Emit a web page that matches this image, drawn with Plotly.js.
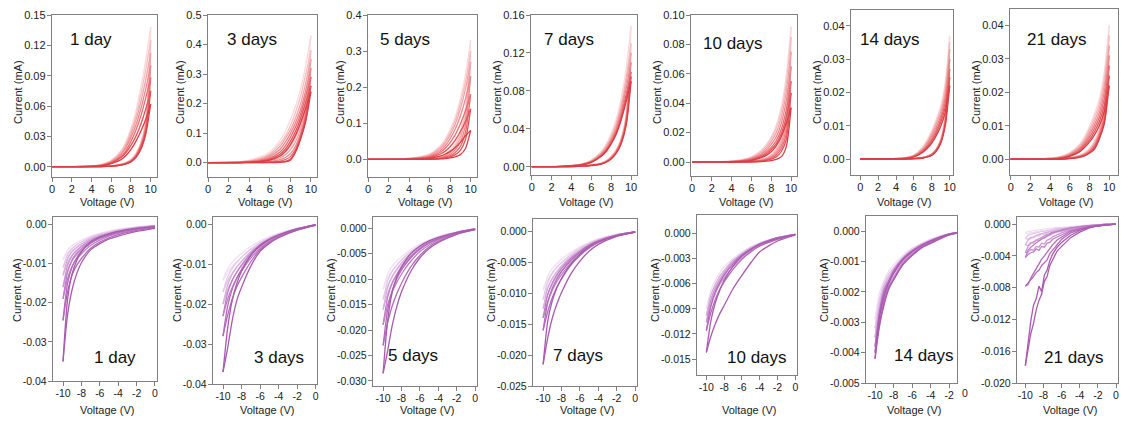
<!DOCTYPE html>
<html><head><meta charset="utf-8">
<script src="https://cdn.plot.ly/plotly-3.0.1.min.js"></script>
<style>html,body{margin:0;padding:0;background:#fff}#chart{width:1121px;height:421px}</style>
</head><body><div id="chart"></div>
<script>
const W = 1121, H = 421;
const panelLabels = ["1 day","3 days","5 days","7 days","10 days","14 days","21 days"];
const xTitle = "Voltage (V)";
const yTitle = "Current (mA)";
const voltPos = [0,3,5,6,7,7.5,8,8.5,9,9.5,10];
const voltNeg = [-10,-9.5,-9,-8.5,-8,-7,-6,-5,-4,-2,0];
const voltNeg21 = [-10,-9.7,-9.4,-9.1,-8.8,-8.5,-8.2,-7.9,-7.6,-7.3,-7,-6.5,-6,-5,-4,-3,-2,-1,0];

const xTicksPos = [0,2,4,6,8,10];
const xLabelsPos = ["0","2","4","6","8","10"];
const xTicksNeg = [-10,-8,-6,-4,-2,0];
const xLabelsNeg = ["-10","-8","-6","-4","-2","0"];

const yTicksPos = [
  [0,0.03,0.06,0.09,0.12,0.15],
  [0,0.1,0.2,0.3,0.4,0.5],
  [0,0.1,0.2,0.3,0.4],
  [0,0.04,0.08,0.12,0.16],
  [0,0.02,0.04,0.06,0.08,0.10],
  [0,0.01,0.02,0.03,0.04],
  [0,0.01,0.02,0.03,0.04]];
const yLabelsPos = [
  ["0.00","0.03","0.06","0.09","0.12","0.15"],
  ["0.0","0.1","0.2","0.3","0.4","0.5"],
  ["0.0","0.1","0.2","0.3","0.4"],
  ["0.00","0.04","0.08","0.12","0.16"],
  ["0.00","0.02","0.04","0.06","0.08","0.10"],
  ["0.00","0.01","0.02","0.03","0.04"],
  ["0.00","0.01","0.02","0.03","0.04"]];
const yTicksNeg = [
  [0,-0.01,-0.02,-0.03,-0.04],
  [0,-0.01,-0.02,-0.03,-0.04],
  [0,-0.005,-0.01,-0.015,-0.02,-0.025,-0.03],
  [0,-0.005,-0.01,-0.015,-0.02,-0.025],
  [0,-0.003,-0.006,-0.009,-0.012,-0.015],
  [0,-0.001,-0.002,-0.003,-0.004,-0.005],
  [0,-0.004,-0.008,-0.012,-0.016,-0.02]];
const yLabelsNeg = [
  ["0.00","-0.01","-0.02","-0.03","-0.04"],
  ["0.00","-0.01","-0.02","-0.03","-0.04"],
  ["0.000","-0.005","-0.010","-0.015","-0.020","-0.025","-0.030"],
  ["0.000","-0.005","-0.010","-0.015","-0.020","-0.025"],
  ["0.000","-0.003","-0.006","-0.009","-0.012","-0.015"],
  ["0.000","-0.001","-0.002","-0.003","-0.004","-0.005"],
  ["0.000","-0.004","-0.008","-0.012","-0.016","-0.020"]];

// ---- positive sweeps (mA), cycles light -> dark ----
const day1PosUpper = [
[0,0.0003,0.002,0.006,0.016,0.025,0.038,0.055,0.078,0.105,0.138],
[0,0.0003,0.002,0.006,0.015,0.023,0.035,0.05,0.071,0.096,0.125],
[0,0.0002,0.0018,0.005,0.013,0.021,0.032,0.046,0.064,0.086,0.112],
[0,0.0002,0.0016,0.0045,0.012,0.019,0.029,0.041,0.057,0.077,0.10],
[0,0.0002,0.0014,0.004,0.01,0.016,0.025,0.036,0.05,0.068,0.088],
[0,0.0001,0.001,0.0035,0.009,0.014,0.021,0.03,0.042,0.057,0.075],
[0,0.0001,0.0008,0.003,0.007,0.011,0.017,0.025,0.035,0.047,0.062]];
const day1PosLower = [
[0,0,0.0003,0.0008,0.0025,0.004,0.007,0.013,0.024,0.045,0.138],
[0,0,0.0003,0.0008,0.0024,0.004,0.0068,0.0125,0.023,0.043,0.125],
[0,0,0.0003,0.0007,0.0022,0.0037,0.0063,0.012,0.022,0.041,0.112],
[0,0,0.0002,0.0007,0.002,0.0035,0.006,0.011,0.021,0.039,0.10],
[0,0,0.0002,0.0006,0.0019,0.0033,0.0056,0.0105,0.02,0.037,0.088],
[0,0,0.0002,0.0006,0.0018,0.003,0.0052,0.01,0.019,0.035,0.075],
[0,0,0.0002,0.0005,0.0016,0.0028,0.0048,0.009,0.017,0.032,0.062]];

const day3PosUpper = [
[0,0.003,0.018,0.036,0.075,0.105,0.145,0.19,0.25,0.33,0.43],
[0,0.002,0.014,0.03,0.065,0.09,0.125,0.17,0.225,0.3,0.38],
[0,0.002,0.011,0.025,0.055,0.08,0.11,0.15,0.2,0.27,0.35],
[0,0.001,0.008,0.02,0.045,0.068,0.098,0.135,0.18,0.245,0.32],
[0,0.001,0.006,0.015,0.036,0.056,0.085,0.12,0.165,0.225,0.29],
[0,0,0.004,0.011,0.028,0.045,0.072,0.105,0.15,0.205,0.26],
[0,0,0.003,0.008,0.022,0.037,0.06,0.092,0.135,0.185,0.24]];
const day3PosLower = [
[0,0.001,0.006,0.013,0.03,0.045,0.068,0.1,0.15,0.24,0.43],
[0,0.0005,0.004,0.01,0.022,0.035,0.055,0.085,0.13,0.21,0.38],
[0,0,0.003,0.007,0.016,0.026,0.043,0.07,0.115,0.19,0.35],
[0,0,0.002,0.004,0.01,0.017,0.03,0.055,0.1,0.17,0.32],
[0,0,0.001,0.002,0.005,0.01,0.02,0.045,0.09,0.16,0.29],
[0,0,0,0.001,0.002,0.004,0.012,0.04,0.085,0.15,0.26],
[0,0,0,0,0.001,0.002,0.008,0.035,0.08,0.14,0.24]];

const day5PosUpper = [
[0,0.001,0.007,0.015,0.037,0.055,0.082,0.118,0.168,0.235,0.33],
[0,0.001,0.006,0.013,0.033,0.05,0.075,0.108,0.155,0.215,0.30],
[0,0.001,0.005,0.011,0.029,0.044,0.067,0.098,0.14,0.195,0.27],
[0,0.0005,0.004,0.009,0.024,0.037,0.057,0.084,0.12,0.168,0.23],
[0,0.0005,0.003,0.007,0.019,0.03,0.046,0.068,0.098,0.135,0.18],
[0,0,0.002,0.005,0.014,0.022,0.035,0.053,0.077,0.105,0.14],
[0,0,0.001,0.003,0.009,0.014,0.022,0.033,0.047,0.065,0.08]];
const day5PosLower = [
[0,0,0.0015,0.003,0.007,0.014,0.025,0.044,0.08,0.145,0.33],
[0,0,0.001,0.0025,0.006,0.012,0.021,0.038,0.07,0.13,0.30],
[0,0,0.001,0.002,0.005,0.01,0.018,0.033,0.06,0.115,0.27],
[0,0,0.0005,0.0015,0.004,0.008,0.014,0.026,0.048,0.095,0.23],
[0,0,0,0.001,0.003,0.006,0.01,0.019,0.036,0.075,0.18],
[0,0,0,0.001,0.002,0.004,0.007,0.013,0.025,0.055,0.14],
[0,0,0,0,0.001,0.002,0.004,0.007,0.013,0.03,0.08]];

const day7PosUpper = [
[0,0.0005,0.003,0.007,0.016,0.024,0.035,0.05,0.072,0.103,0.148],
[0,0.0004,0.0027,0.0065,0.015,0.022,0.032,0.046,0.066,0.094,0.13],
[0,0.0004,0.0025,0.006,0.014,0.021,0.03,0.043,0.062,0.088,0.12],
[0,0.0003,0.0022,0.0055,0.013,0.019,0.028,0.04,0.058,0.082,0.11],
[0,0.0003,0.002,0.005,0.012,0.018,0.026,0.037,0.054,0.076,0.10],
[0,0.0003,0.0019,0.0048,0.0115,0.017,0.025,0.036,0.051,0.072,0.095],
[0,0.0003,0.0018,0.0045,0.011,0.016,0.024,0.034,0.049,0.068,0.09]];
const day7PosLower = [
[0,0,0.0008,0.002,0.004,0.0065,0.011,0.018,0.03,0.055,0.148],
[0,0,0.0007,0.0018,0.0038,0.006,0.0105,0.017,0.029,0.053,0.13],
[0,0,0.0006,0.0016,0.0035,0.0058,0.01,0.0165,0.028,0.051,0.12],
[0,0,0.0006,0.0015,0.0033,0.0055,0.0095,0.016,0.027,0.049,0.11],
[0,0,0.0005,0.0014,0.003,0.0052,0.009,0.015,0.026,0.047,0.10],
[0,0,0.0005,0.0013,0.0029,0.005,0.0086,0.0145,0.025,0.045,0.095],
[0,0,0.0005,0.0012,0.0028,0.0048,0.0082,0.014,0.024,0.043,0.09]];

const day10PosUpper = [
[0,0.0002,0.0015,0.0035,0.008,0.012,0.017,0.025,0.037,0.058,0.092],
[0,0.0002,0.0014,0.0032,0.0075,0.011,0.016,0.023,0.034,0.053,0.085],
[0,0.0001,0.0012,0.0028,0.0065,0.0095,0.014,0.02,0.03,0.047,0.075],
[0,0.0001,0.001,0.0024,0.0055,0.008,0.012,0.017,0.026,0.041,0.065],
[0,0.0001,0.0008,0.002,0.0045,0.0067,0.01,0.0145,0.022,0.035,0.055],
[0,0,0.0006,0.0015,0.0037,0.0055,0.0085,0.0125,0.019,0.03,0.047],
[0,0,0.0004,0.001,0.003,0.0045,0.007,0.011,0.017,0.026,0.037]];
const day10PosLower = [
[0,0,0.0003,0.0008,0.002,0.003,0.005,0.009,0.016,0.032,0.092],
[0,0,0.0003,0.0007,0.0018,0.0028,0.0046,0.0083,0.015,0.03,0.085],
[0,0,0.0002,0.0006,0.0015,0.0024,0.004,0.0072,0.013,0.027,0.075],
[0,0,0.0002,0.0005,0.0012,0.002,0.0034,0.006,0.011,0.023,0.065],
[0,0,0.0001,0.0004,0.001,0.0016,0.0027,0.0048,0.009,0.019,0.055],
[0,0,0.0001,0.0003,0.0007,0.0012,0.002,0.0035,0.007,0.015,0.047],
[0,0,0,0,0.0003,0.0006,0.001,0.0018,0.0035,0.01,0.037]];

const day14PosUpper = [
[0,0,0.0004,0.0012,0.0037,0.0058,0.0085,0.012,0.016,0.023,0.037],
[0,0,0.0003,0.0011,0.0034,0.0054,0.008,0.0112,0.015,0.0215,0.035],
[0,0,0.0003,0.001,0.0031,0.005,0.0075,0.0105,0.014,0.02,0.033],
[0,0,0.0003,0.0009,0.0028,0.0045,0.0068,0.0095,0.013,0.0185,0.030],
[0,0,0.0002,0.0008,0.0025,0.004,0.006,0.0086,0.012,0.017,0.027],
[0,0,0.0002,0.0007,0.0022,0.0036,0.0054,0.0078,0.011,0.0155,0.0245],
[0,0,0.0002,0.0006,0.002,0.0032,0.0048,0.007,0.0098,0.014,0.022]];
const day14PosLower = [
[0,0,0,0.0002,0.0005,0.0009,0.0016,0.003,0.006,0.013,0.037],
[0,0,0,0.0002,0.0005,0.0009,0.0016,0.003,0.0058,0.0125,0.035],
[0,0,0,0.0002,0.0005,0.0008,0.0015,0.0029,0.0056,0.012,0.033],
[0,0,0,0.0001,0.0004,0.0008,0.0014,0.0028,0.0054,0.0115,0.030],
[0,0,0,0.0001,0.0004,0.0007,0.0013,0.0027,0.0052,0.011,0.027],
[0,0,0,0.0001,0.0003,0.0006,0.0012,0.0025,0.005,0.0105,0.0245],
[0,0,0,0.0001,0.0003,0.0006,0.0011,0.0023,0.0047,0.01,0.022]];

const day21PosUpper = [
[0,0.0001,0.0008,0.002,0.0045,0.0068,0.0098,0.0135,0.018,0.026,0.040],
[0,0.0001,0.0007,0.0018,0.0041,0.0062,0.009,0.0124,0.0166,0.024,0.037],
[0,0.0001,0.0006,0.0016,0.0037,0.0056,0.0082,0.0113,0.0152,0.022,0.034],
[0,0,0.0005,0.0014,0.0033,0.005,0.0074,0.0102,0.0138,0.02,0.031],
[0,0,0.0004,0.0012,0.0029,0.0045,0.0066,0.0092,0.0125,0.018,0.028],
[0,0,0.0003,0.001,0.0025,0.004,0.0058,0.0082,0.0112,0.016,0.025],
[0,0,0.0003,0.0009,0.0022,0.0035,0.0051,0.0072,0.01,0.0142,0.022]];
const day21PosLower = [
[0,0,0.0002,0.0005,0.0012,0.002,0.0033,0.0055,0.009,0.016,0.040],
[0,0,0.0002,0.0005,0.0011,0.0018,0.003,0.005,0.0085,0.015,0.037],
[0,0,0.0001,0.0004,0.001,0.0016,0.0027,0.0046,0.008,0.014,0.034],
[0,0,0.0001,0.0004,0.0009,0.0015,0.0025,0.0042,0.0075,0.013,0.031],
[0,0,0.0001,0.0003,0.0008,0.0013,0.0022,0.0038,0.007,0.012,0.028],
[0,0,0.0001,0.0003,0.0007,0.0012,0.002,0.0034,0.0065,0.011,0.025],
[0,0,0,0.0002,0.0006,0.001,0.0018,0.003,0.006,0.0105,0.022]];

// ---- negative sweeps (mA), cycles light -> dark ----
const day1NegOuter = [
[-0.009,-0.0072,-0.006,-0.0052,-0.0045,-0.0034,-0.0026,-0.002,-0.0015,-0.0008,-0.0003],
[-0.011,-0.0085,-0.0069,-0.0059,-0.0051,-0.0038,-0.0029,-0.0022,-0.0017,-0.0009,-0.0004],
[-0.013,-0.0098,-0.0078,-0.0066,-0.0057,-0.0042,-0.0032,-0.0024,-0.0019,-0.001,-0.0004],
[-0.016,-0.0118,-0.0092,-0.0077,-0.0066,-0.0048,-0.0036,-0.0027,-0.0021,-0.0011,-0.0005],
[-0.019,-0.0138,-0.0106,-0.0088,-0.0075,-0.0054,-0.004,-0.003,-0.0023,-0.0013,-0.0006],
[-0.0245,-0.0172,-0.0128,-0.0104,-0.0087,-0.0061,-0.0045,-0.0034,-0.0026,-0.0015,-0.0008],
[-0.035,-0.023,-0.0165,-0.0125,-0.0098,-0.0065,-0.0049,-0.0037,-0.003,-0.0018,-0.001]];
const day1NegInner = [
[-0.009,-0.0066,-0.0054,-0.0046,-0.004,-0.003,-0.0022,-0.0017,-0.0012,-0.0006,-0.0002],
[-0.011,-0.0077,-0.0062,-0.0052,-0.0045,-0.0033,-0.0025,-0.0019,-0.0014,-0.0007,-0.0003],
[-0.013,-0.0088,-0.0069,-0.0058,-0.005,-0.0036,-0.0027,-0.0021,-0.0015,-0.0008,-0.0003],
[-0.016,-0.0105,-0.008,-0.0066,-0.0056,-0.004,-0.003,-0.0023,-0.0017,-0.0009,-0.0004],
[-0.019,-0.0122,-0.009,-0.0073,-0.0062,-0.0044,-0.0032,-0.0025,-0.0019,-0.001,-0.0004],
[-0.0245,-0.015,-0.0108,-0.0085,-0.0069,-0.0048,-0.0035,-0.0027,-0.002,-0.0011,-0.0005],
[-0.035,-0.019,-0.0125,-0.0092,-0.007,-0.0045,-0.0032,-0.0024,-0.0018,-0.001,-0.0006]];

const day3NegOuter = [
[-0.014,-0.012,-0.0105,-0.0093,-0.0082,-0.0062,-0.0047,-0.0035,-0.0026,-0.0012,-0.0002],
[-0.017,-0.0142,-0.0122,-0.0106,-0.0093,-0.007,-0.0052,-0.0038,-0.0028,-0.0013,-0.0002],
[-0.02,-0.0165,-0.014,-0.012,-0.0105,-0.0077,-0.0056,-0.0041,-0.003,-0.0013,-0.0002],
[-0.023,-0.0188,-0.0158,-0.0135,-0.0117,-0.0085,-0.006,-0.0043,-0.0031,-0.0014,-0.0002],
[-0.028,-0.0228,-0.0187,-0.0156,-0.0133,-0.0094,-0.0064,-0.0045,-0.0032,-0.0014,-0.0002],
[-0.037,-0.031,-0.024,-0.019,-0.0158,-0.0105,-0.0068,-0.0048,-0.0034,-0.0015,-0.0003]];
const day3NegInner = [
[-0.014,-0.0112,-0.0095,-0.0083,-0.0073,-0.0055,-0.0042,-0.0031,-0.0023,-0.001,-0.0001],
[-0.017,-0.0132,-0.011,-0.0095,-0.0083,-0.0062,-0.0046,-0.0034,-0.0025,-0.0011,-0.0001],
[-0.02,-0.0152,-0.0125,-0.0107,-0.0093,-0.0068,-0.005,-0.0036,-0.0026,-0.0011,-0.0001],
[-0.023,-0.0172,-0.014,-0.0119,-0.0102,-0.0073,-0.0052,-0.0037,-0.0027,-0.0012,-0.0001],
[-0.028,-0.0205,-0.0162,-0.0134,-0.0113,-0.0078,-0.0055,-0.0039,-0.0028,-0.0012,-0.0001],
[-0.037,-0.026,-0.019,-0.0148,-0.0118,-0.0078,-0.0053,-0.0038,-0.0027,-0.0012,-0.0002]];

const day5NegOuter = [
[-0.012,-0.0098,-0.0083,-0.0072,-0.0063,-0.0048,-0.0036,-0.0026,-0.0019,-0.0008,-0.0002],
[-0.014,-0.0113,-0.0095,-0.0082,-0.0071,-0.0053,-0.0039,-0.0028,-0.002,-0.0009,-0.0002],
[-0.016,-0.0128,-0.0107,-0.0092,-0.0079,-0.0058,-0.0042,-0.003,-0.0021,-0.0009,-0.0002],
[-0.019,-0.015,-0.0124,-0.0106,-0.009,-0.0065,-0.0046,-0.0033,-0.0023,-0.001,-0.0002],
[-0.023,-0.0185,-0.0152,-0.0128,-0.0108,-0.0076,-0.0053,-0.0037,-0.0026,-0.0011,-0.0003],
[-0.0285,-0.024,-0.019,-0.0153,-0.0125,-0.0085,-0.0058,-0.004,-0.0028,-0.0012,-0.0003]];
const day5NegInner = [
[-0.012,-0.009,-0.0074,-0.0064,-0.0056,-0.0042,-0.0031,-0.0023,-0.0016,-0.0007,-0.0001],
[-0.014,-0.0103,-0.0084,-0.0072,-0.0062,-0.0046,-0.0034,-0.0025,-0.0018,-0.0008,-0.0001],
[-0.016,-0.0116,-0.0094,-0.008,-0.0068,-0.005,-0.0036,-0.0026,-0.0019,-0.0008,-0.0001],
[-0.019,-0.0135,-0.0107,-0.009,-0.0076,-0.0055,-0.0039,-0.0028,-0.002,-0.0009,-0.0001],
[-0.023,-0.016,-0.0122,-0.0099,-0.0082,-0.0058,-0.0041,-0.0029,-0.0021,-0.0009,-0.0002],
[-0.0285,-0.018,-0.0125,-0.0095,-0.0076,-0.005,-0.0035,-0.0025,-0.0018,-0.0008,-0.0002]];

const day7NegOuter = [
[-0.0095,-0.0078,-0.0066,-0.0057,-0.005,-0.0038,-0.0028,-0.002,-0.0014,-0.0006,-0.0001],
[-0.011,-0.009,-0.0076,-0.0065,-0.0057,-0.0043,-0.0031,-0.0022,-0.0015,-0.0006,-0.0001],
[-0.0125,-0.0102,-0.0086,-0.0073,-0.0064,-0.0047,-0.0034,-0.0024,-0.0016,-0.0007,-0.0001],
[-0.014,-0.0114,-0.0095,-0.0081,-0.007,-0.0051,-0.0037,-0.0026,-0.0017,-0.0007,-0.0001],
[-0.016,-0.013,-0.0107,-0.009,-0.0077,-0.0055,-0.0039,-0.0027,-0.0018,-0.0007,-0.0001],
[-0.0215,-0.0172,-0.014,-0.0117,-0.0099,-0.0069,-0.0048,-0.0032,-0.0021,-0.0008,-0.0001]];
const day7NegInner = [
[-0.0095,-0.0072,-0.006,-0.0052,-0.0045,-0.0034,-0.0025,-0.0018,-0.0012,-0.0005,-0.0001],
[-0.011,-0.0082,-0.0068,-0.0058,-0.0051,-0.0038,-0.0027,-0.0019,-0.0013,-0.0005,-0.0001],
[-0.0125,-0.0092,-0.0076,-0.0065,-0.0056,-0.0041,-0.003,-0.0021,-0.0014,-0.0006,-0.0001],
[-0.014,-0.0102,-0.0083,-0.007,-0.006,-0.0044,-0.0032,-0.0022,-0.0015,-0.0006,-0.0001],
[-0.016,-0.0115,-0.0092,-0.0077,-0.0065,-0.0047,-0.0034,-0.0023,-0.0016,-0.0006,-0.0001],
[-0.0215,-0.0145,-0.0112,-0.0091,-0.0076,-0.0053,-0.0037,-0.0025,-0.0017,-0.0007,-0.0001]];

const day10NegOuter = [
[-0.009,-0.0073,-0.0061,-0.0052,-0.0045,-0.0034,-0.0025,-0.0018,-0.0013,-0.0006,-0.0001],
[-0.0098,-0.008,-0.0067,-0.0057,-0.0049,-0.0037,-0.0027,-0.0019,-0.0014,-0.0006,-0.0001],
[-0.0106,-0.0087,-0.0072,-0.0061,-0.0053,-0.004,-0.0029,-0.0021,-0.0015,-0.0006,-0.0001],
[-0.0116,-0.0095,-0.0079,-0.0067,-0.0058,-0.0043,-0.0031,-0.0022,-0.0015,-0.0007,-0.0001],
[-0.0142,-0.0123,-0.0108,-0.0096,-0.0086,-0.0066,-0.005,-0.0035,-0.0022,-0.0009,-0.0002]];
const day10NegInner = [
[-0.009,-0.0068,-0.0056,-0.0047,-0.004,-0.003,-0.0022,-0.0016,-0.0011,-0.0005,-0.0001],
[-0.0098,-0.0074,-0.0061,-0.0051,-0.0044,-0.0032,-0.0024,-0.0017,-0.0012,-0.0005,-0.0001],
[-0.0106,-0.008,-0.0065,-0.0055,-0.0047,-0.0034,-0.0025,-0.0018,-0.0012,-0.0005,-0.0001],
[-0.0116,-0.0087,-0.007,-0.0059,-0.005,-0.0036,-0.0026,-0.0019,-0.0013,-0.0005,-0.0001],
[-0.0142,-0.0105,-0.0083,-0.0068,-0.0056,-0.0039,-0.0027,-0.0019,-0.0013,-0.0006,-0.0001]];

const day14NegOuter = [
[-0.0029,-0.0022,-0.0018,-0.0015,-0.0013,-0.0009,-0.00065,-0.00045,-0.0003,-0.0001,0],
[-0.0032,-0.0024,-0.0019,-0.0016,-0.0014,-0.00095,-0.0007,-0.00048,-0.00032,-0.0001,0],
[-0.0035,-0.0026,-0.0021,-0.0017,-0.0015,-0.001,-0.00072,-0.0005,-0.00034,-0.0001,0],
[-0.0038,-0.0028,-0.0022,-0.0018,-0.00155,-0.00105,-0.00075,-0.00052,-0.00036,-0.00011,0],
[-0.004,-0.003,-0.0023,-0.00185,-0.0016,-0.0011,-0.00078,-0.00054,-0.00038,-0.00012,0],
[-0.0042,-0.0031,-0.0024,-0.0019,-0.0016,-0.0011,-0.0008,-0.00055,-0.0004,-0.00012,0]];
const day14NegInner = [
[-0.0029,-0.002,-0.0016,-0.0013,-0.0011,-0.0008,-0.00055,-0.0004,-0.00026,-0.00008,0],
[-0.0032,-0.0022,-0.0017,-0.0014,-0.0012,-0.00085,-0.0006,-0.00042,-0.00028,-0.00008,0],
[-0.0035,-0.0024,-0.0018,-0.0015,-0.00125,-0.00088,-0.00062,-0.00044,-0.0003,-0.00009,0],
[-0.0038,-0.0026,-0.0019,-0.0016,-0.0013,-0.0009,-0.00064,-0.00045,-0.00031,-0.00009,0],
[-0.004,-0.0027,-0.002,-0.00165,-0.00135,-0.00092,-0.00066,-0.00047,-0.00032,-0.0001,0],
[-0.0042,-0.0028,-0.0021,-0.0017,-0.0014,-0.00095,-0.00068,-0.00048,-0.00033,-0.0001,0]];

const day21NegOuter = [
[-0.0011,-0.0012,-0.001,-0.0011,-0.0009,-0.001,-0.0008,-0.0009,-0.0007,-0.0008,-0.0006,-0.0006,-0.0005,-0.0004,-0.0003,-0.0002,-0.0001,-0.00005,0],
[-0.0018,-0.0019,-0.0016,-0.0017,-0.0014,-0.0015,-0.0012,-0.0013,-0.0011,-0.0011,-0.0009,-0.0008,-0.0007,-0.0005,-0.0004,-0.0002,-0.0001,-0.00005,0],
[-0.0026,-0.0027,-0.0023,-0.0024,-0.002,-0.0021,-0.0017,-0.0018,-0.0015,-0.0014,-0.0012,-0.001,-0.0009,-0.0006,-0.0004,-0.0003,-0.0001,-0.00005,0],
[-0.0036,-0.0035,-0.0032,-0.0033,-0.0028,-0.0029,-0.0024,-0.0025,-0.002,-0.0019,-0.0016,-0.0013,-0.0011,-0.0007,-0.0005,-0.0003,-0.0002,-0.00005,0],
[-0.0042,-0.0038,-0.0036,-0.0035,-0.0031,-0.0033,-0.0028,-0.0029,-0.0024,-0.0023,-0.0019,-0.0016,-0.0013,-0.0008,-0.0005,-0.0003,-0.0002,-0.00005,0],
[-0.0078,-0.0074,-0.0071,-0.0066,-0.0061,-0.0058,-0.0052,-0.0048,-0.0045,-0.0037,-0.0033,-0.0025,-0.0019,-0.0011,-0.0007,-0.0004,-0.0002,-0.0001,0],
[-0.0178,-0.0158,-0.0138,-0.0125,-0.0108,-0.0096,-0.0088,-0.0072,-0.0066,-0.0052,-0.0045,-0.0034,-0.0028,-0.0017,-0.001,-0.0005,-0.0002,-0.0001,0]];
const day21NegInner = [
[-0.0011,-0.0009,-0.0009,-0.0008,-0.0008,-0.0007,-0.0007,-0.0006,-0.0006,-0.0005,-0.0005,-0.0004,-0.0004,-0.0003,-0.0002,-0.0001,-0.0001,0,0],
[-0.0018,-0.0014,-0.0013,-0.0012,-0.0011,-0.001,-0.0009,-0.0009,-0.0008,-0.0007,-0.0006,-0.0005,-0.0005,-0.0004,-0.0003,-0.0002,-0.0001,0,0],
[-0.0026,-0.002,-0.0018,-0.0016,-0.0015,-0.0013,-0.0012,-0.0011,-0.001,-0.0009,-0.0008,-0.0007,-0.0006,-0.0004,-0.0003,-0.0002,-0.0001,0,0],
[-0.0036,-0.0028,-0.0024,-0.0022,-0.002,-0.0018,-0.0016,-0.0015,-0.0013,-0.0012,-0.001,-0.0009,-0.0007,-0.0005,-0.0003,-0.0002,-0.0001,0,0],
[-0.0042,-0.0033,-0.0029,-0.0026,-0.0023,-0.0021,-0.0019,-0.0017,-0.0015,-0.0013,-0.0011,-0.0009,-0.0008,-0.0005,-0.0003,-0.0002,-0.0001,0,0],
[-0.0078,-0.0076,-0.0068,-0.0062,-0.0055,-0.005,-0.0044,-0.004,-0.0035,-0.003,-0.0026,-0.002,-0.0016,-0.0009,-0.0006,-0.0003,-0.0002,-0.0001,0],
[-0.0178,-0.0146,-0.0122,-0.0102,-0.0094,-0.0078,-0.0085,-0.0064,-0.0058,-0.0046,-0.0038,-0.0029,-0.0023,-0.0014,-0.0008,-0.0004,-0.0002,-0.0001,0]];

// ---- styling / geometry (pixels) ----
const redShades = ['#fad9da','#f6bec0','#f1a2a5','#ec878b','#e76b70','#e25257','#dd3c42'];
const purpleShades = ['#f0e0f2','#e4c8e8','#d8afdd','#cb96d1','#bf7ec6','#b36aba','#a95aaf'];

// l,r,t,b: frame; lab: panel label left/center-y; yt: y-title centre offset left of frame; tf: tick font
const posGeom = [
 {l:52, r:157, t:15, b:177, xr:[0,10.64], yr:[-0.0102,0.15], lab:[68,40], yt:34, tf:11},
 {l:208,r:317, t:15, b:177, xr:[0,10.59], yr:[-0.049,0.5],   lab:[225,40], yt:28, tf:11},
 {l:368,r:477, t:15, b:177, xr:[0,10.62], yr:[-0.049,0.4],   lab:[378,40], yt:28, tf:11},
 {l:531,r:637, t:15, b:175, xr:[-0.07,10.6], yr:[-0.0088,0.16], lab:[542,40], yt:34, tf:11},
 {l:691,r:797, t:15, b:176, xr:[-0.1,10.6], yr:[-0.0095,0.10], lab:[701,43], yt:34, tf:11},
 {l:851,r:953, t:10, b:175, xr:[-1.03,10.37], yr:[-0.0048,0.0447], lab:[858,40], yt:34, tf:11},
 {l:1010,r:1118,t:9, b:175, xr:[-0.07,10.9], yr:[-0.0047,0.0449], lab:[1025,40], yt:34, tf:11}];
const negGeom = [
 {l:53, r:157, t:217, b:381, xr:[-11.09,0.22], yr:[-0.04,0.0019], lab:[92,357], yt:36, tf:10.5},
 {l:213,r:317, t:217, b:384, xr:[-11.08,0.14], yr:[-0.04,0.0018], lab:[252,357], yt:36, tf:10.5},
 {l:373,r:477, t:217, b:386, xr:[-11.1,0.2],  yr:[-0.031,0.0022], lab:[386,355], yt:42, tf:10.5},
 {l:533,r:637, t:219, b:386, xr:[-11.1,0.2],  yr:[-0.025,0.002], lab:[551,355], yt:42, tf:10.5},
 {l:697,r:797, t:215, b:375, xr:[-11.05,0.19], yr:[-0.0169,0.0022], lab:[725,357], yt:42, tf:10.5},
 {l:866,r:957, t:216, b:383, xr:[-10.97,-1.17], yr:[-0.005,0.0005], lab:[892,355], yt:42, tf:10.5},
 {l:1017,r:1118,t:217, b:383, xr:[-10.92,0.22], yr:[-0.020,0.0009], lab:[1042,357], yt:42, tf:10.5}];

const posSets = [[day1PosUpper,day1PosLower],[day3PosUpper,day3PosLower],[day5PosUpper,day5PosLower],
  [day7PosUpper,day7PosLower],[day10PosUpper,day10PosLower],[day14PosUpper,day14PosLower],[day21PosUpper,day21PosLower]];
const negSets = [[day1NegOuter,day1NegInner],[day3NegOuter,day3NegInner],[day5NegOuter,day5NegInner],
  [day7NegOuter,day7NegInner],[day10NegOuter,day10NegInner],[day14NegOuter,day14NegInner],[day21NegOuter,day21NegInner]];

const FONT = 'Arial, "Liberation Sans", sans-serif';
const traces = [];
const layout = {width:W, height:H, margin:{l:0,r:0,t:0,b:0}, paper_bgcolor:'#fff', plot_bgcolor:'#fff',
  showlegend:false, font:{family:FONT, color:'#222'}, annotations:[]};

function shade(i,n){ return Math.round(i*6/(n-1)); }
function axName(k){ return k===1 ? '' : String(k); }

function addPanel(k, geom, sets, volt, shades, xt, xl, yt, yl, label, smooth, xTitleY){
  const s = axName(k);
  const n = sets[0].length;
  for(let i=0;i<n;i++){
    [sets[0][i], sets[1][i]].forEach(ys=>{
      traces.push({type:'scatter', mode:'lines', x:volt, y:ys, xaxis:'x'+s, yaxis:'y'+s,
        line:{color:shades[shade(i,n)], width:1.3, shape: smooth?'spline':'linear', smoothing:0.7},
        hoverinfo:'skip', showlegend:false});
    });
  }
  const common = {showline:true, mirror:true, linecolor:'#808080', linewidth:1.2, ticks:'outside',
    ticklen:4, tickwidth:1, tickcolor:'#808080', showgrid:false, zeroline:false,
    tickfont:{size:geom.tf, color:'#222', family:FONT}, tickmode:'array', fixedrange:true};
  layout['xaxis'+s] = Object.assign({}, common, {domain:[geom.l/W, geom.r/W], range:geom.xr,
    anchor:'y'+s, tickvals:xt, ticktext:xl, ticklabelstandoff:-2});
  layout['yaxis'+s] = Object.assign({}, common, {domain:[1-geom.b/H, 1-geom.t/H], range:geom.yr,
    anchor:'x'+s, tickvals:yt, ticktext:yl, ticklabelstandoff:-1});
  // panel label
  layout.annotations.push({xref:'paper', yref:'paper', x:geom.lab[0]/W, y:1-geom.lab[1]/H,
    xanchor:'left', yanchor:'middle', showarrow:false, text:label,
    font:{size:17, color:'#111', family:FONT}});
  // axis titles
  layout.annotations.push({xref:'paper', yref:'paper', x:((geom.l+geom.r)/2+2)/W, y:1-xTitleY/H,
    xanchor:'center', yanchor:'middle', showarrow:false, text:xTitle,
    font:{size:11, color:'#222', family:FONT}});
  const yMid = k<=7 ? 92 : 290;
  layout.annotations.push({xref:'paper', yref:'paper', x:(geom.l-geom.yt)/W, y:1-yMid/H,
    xanchor:'center', yanchor:'middle', showarrow:false, text:yTitle, textangle:-90,
    font:{size:11, color:'#222', family:FONT}});
}

for(let p=0;p<7;p++){
  addPanel(p+1, posGeom[p], posSets[p], voltPos, redShades, xTicksPos, xLabelsPos,
    yTicksPos[p], yLabelsPos[p], panelLabels[p], true, 202);
}
for(let p=0;p<7;p++){
  addPanel(p+8, negGeom[p], negSets[p], p===6 ? voltNeg21 : voltNeg, purpleShades, xTicksNeg, xLabelsNeg,
    yTicksNeg[p], yLabelsNeg[p], panelLabels[p], p!==6, 410);
}
// the 14-day bottom panel's "0" tick label sits just past its cropped frame in the reference
layout.annotations.push({xref:'paper', yref:'paper', x:965/W, y:1-393/H, xanchor:'center', yanchor:'middle',
  showarrow:false, text:xLabelsNeg[5], font:{size:10.5, color:'#222', family:FONT}});

Plotly.newPlot('chart', traces, layout, {staticPlot:true, displayModeBar:false});
</script>
</body></html>
